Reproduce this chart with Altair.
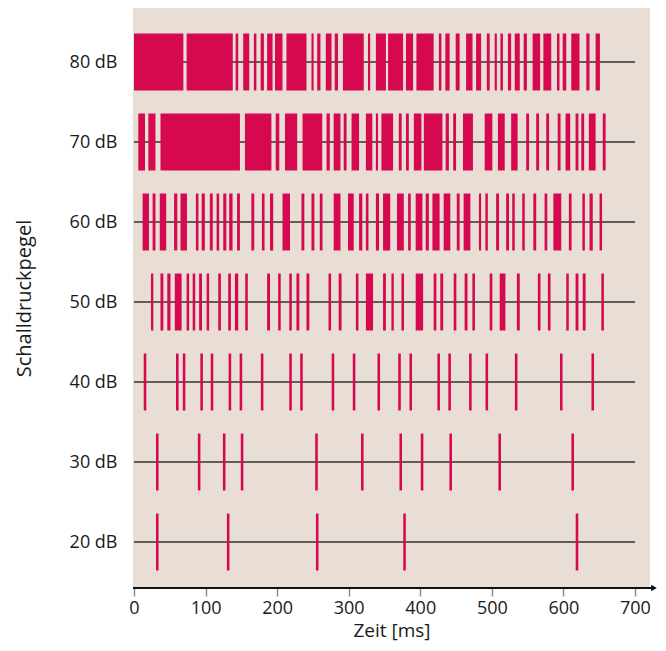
import altair as alt
import pandas as pd

levels = [80, 70, 60, 50, 40, 30, 20]

# burst intervals (start, end) in ms
spikes_80 = [(0, 69), (73.5, 138), (142, 145.6), (152.6, 161), (167.5, 171), (177, 181.5),
             (186, 193.6), (197, 207.5), (213, 241), (248, 251), (256, 260.5), (268, 276),
             (280.5, 285), (292, 321), (327, 330), (338, 352), (355, 376), (380, 390),
             (394.6, 418.7), (426, 429.5), (435, 441), (449.5, 455), (464, 473), (478, 485),
             (493, 497), (504, 507), (512, 515.5), (522.5, 527), (532, 539), (544.5, 549),
             (557, 567.5), (572, 583), (591, 594.5), (599, 604), (611, 622.5), (632, 636.5),
             (645, 651)]
spikes_70 = [(6, 15.4), (20, 30), (37, 148), (155, 192), (198, 203), (211, 228), (235.5, 263),
             (269, 273.6), (279, 288.5), (293, 297), (304, 314.5), (324, 333), (338, 341),
             (345.7, 362), (370, 374), (380, 384), (391, 401.6), (405, 431), (435.5, 440),
             (446, 450), (459.7, 473.6), (490, 500.7), (508.5, 518), (527, 536), (548, 552),
             (562, 566), (576, 580), (592, 596), (603, 609.5), (617, 621), (625, 629),
             (635.5, 645), (655, 659)]
spikes_60 = [(12, 21), (26, 30), (36, 45), (56, 60.5), (65, 74), (86.5, 90), (94.5, 99),
             (106, 110), (115.4, 119), (124.7, 129), (133, 137.7), (144, 148), (164, 168),
             (178.7, 182.4), (190, 194.5), (207.5, 218), (234, 238), (248, 252), (259.6, 263.4),
             (279, 288.5), (299, 307), (314.5, 319), (324, 327.6), (338, 342.4), (348, 358),
             (367.5, 377), (383, 386.7), (393.6, 403), (407.6, 412), (417, 427), (432.7, 442),
             (451, 455), (460.6, 470), (482, 485), (491, 494.4), (506, 510), (520, 524),
             (528.5, 532), (542.5, 546), (558, 562), (573.7, 577.5), (586, 597), (607.6, 611.4),
             (626.5, 630), (636.5, 641), (650.5, 654)]
spikes_50 = [(23.7, 27), (37, 41), (46.5, 51), (57, 66.5), (73.5, 77), (82, 85.5), (91, 95),
             (101.5, 105), (117.7, 121.4), (131.6, 135.4), (141, 145.6), (155.4, 159), (186, 190),
             (201.4, 205), (217, 220.5), (227, 231), (241, 245), (271.8, 275.4), (286, 290),
             (310, 313.6), (324, 334), (348, 352), (359.7, 363), (373.7, 377.3), (393.6, 404),
             (418.7, 422.5), (428, 432), (446.7, 450.4), (462, 466), (472.8, 476.4),
             (497, 500.7), (511, 519), (535, 539), (564.3, 568), (578.3, 582), (604, 607.5),
             (617, 621), (627, 631), (653, 656.6)]
# single spikes (times in ms)
spikes_40 = [15.4, 60.5, 70, 94.5, 109, 134, 149.4, 179, 218.7, 234, 278, 307.5, 342, 371,
             386.7, 425.7, 441, 470, 493, 534, 597, 641]
spikes_30 = [32.5, 91, 126, 151, 255, 319, 372.7, 402.5, 442.5, 511, 613]
spikes_20 = [32.5, 131.6, 256, 378, 619]

baseline_end = 700
x_ticks = [0, 100, 200, 300, 400, 500, 600, 700]

SPIKE_HALF_MS = 1.8   # drawn half width of a single spike
SPIKE_HALF_DB = 3.56  # drawn half height of a spike row

rows = []
for db, ivals in [(80, spikes_80), (70, spikes_70), (60, spikes_60), (50, spikes_50)]:
    for s, e in ivals:
        rows.append({"db": db, "start": s, "end": e})
for db, cs in [(40, spikes_40), (30, spikes_30), (20, spikes_20)]:
    for c in cs:
        rows.append({"db": db, "start": c - SPIKE_HALF_MS, "end": c + SPIKE_HALF_MS})
spikes_df = pd.DataFrame(rows)
spikes_df["y1"] = spikes_df["db"] - SPIKE_HALF_DB
spikes_df["y2"] = spikes_df["db"] + SPIKE_HALF_DB

base_df = pd.DataFrame({"db": levels, "start": [0] * len(levels), "end": [baseline_end] * len(levels)})

W, H = 517, 580
FONT = "Open Sans"
TXT = "#1a1a1a"
xscale = alt.Scale(domain=[-1.4, 721], nice=False, zero=False)
yscale = alt.Scale(domain=[14.25, 86.75], nice=False, zero=False)
xaxis = alt.Axis(values=x_ticks, title="Zeit [ms]", grid=False, domain=False,
                 tickColor="#8c8c8c", tickSize=8, tickWidth=1.5,
                 labelFont=FONT, labelFontSize=18, labelColor=TXT, labelPadding=3,
                 titleFont=FONT, titleFontSize=19, titleFontWeight="normal",
                 titleColor=TXT, titleY=48, titleBaseline="alphabetic")
yaxis = alt.Axis(values=levels, labelExpr="datum.value + ' dB'", title="Schalldruckpegel",
                 grid=False, domain=False, ticks=False,
                 labelFont=FONT, labelFontSize=18, labelColor=TXT, labelPadding=16,
                 titleFont=FONT, titleFontSize=20, titleFontWeight="normal",
                 titleColor=TXT, titlePadding=35)

baselines = alt.Chart(base_df).mark_rule(color="#333333", strokeWidth=1.6).encode(
    x=alt.X("start:Q", scale=xscale, axis=xaxis),
    x2="end:Q",
    y=alt.Y("db:Q", scale=yscale, axis=yaxis),
)

spikes = alt.Chart(spikes_df).mark_rect(color="#d6084f").encode(
    x=alt.X("start:Q", scale=xscale, axis=xaxis),
    x2="end:Q",
    y=alt.Y("y1:Q", scale=yscale, axis=yaxis),
    y2="y2:Q",
)

one = pd.DataFrame({"k": [0]})
axis_line = alt.Chart(one).mark_rule(color="#111111", strokeWidth=1.8).encode(
    x=alt.value(0), x2=alt.value(W + 4), y=alt.value(H)
)
arrow = alt.Chart(one).mark_point(shape="triangle-right", filled=True, color="#111111",
                                  size=45, opacity=1).encode(
    x=alt.value(W + 4), y=alt.value(H)
)

chart = alt.layer(baselines, spikes, axis_line, arrow).properties(
    width=W, height=H,
    padding={"left": 125, "top": 0, "right": 8, "bottom": 55},
    autosize=alt.AutoSizeParams(type="none"),
    background="white",
).configure_view(fill="#e8ded5", stroke=None)

chart.save("out.html", embed_options={"renderer": "svg", "actions": False})
